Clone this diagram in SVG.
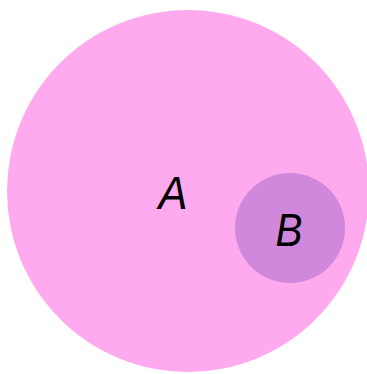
<svg xmlns="http://www.w3.org/2000/svg" width="367" height="374" viewBox="0 0 367 374">
<style>
.lbl{font-family:"Liberation Sans",Arial,sans-serif;font-style:italic;font-size:46px;fill:#000;text-anchor:middle}
</style>
<rect width="367" height="374" fill="#fff"/>
<g id="A">
<circle cx="188" cy="191" r="181" fill="#ffaaee"/>
<text class="lbl" x="173" y="209" textLength="29" lengthAdjust="spacingAndGlyphs">A</text>
</g>
<g id="B">
<circle cx="290" cy="228" r="55" fill="#d088dd"/>
<text class="lbl" x="289" y="246" textLength="27" lengthAdjust="spacingAndGlyphs">B</text>
</g>
<g id="connectors"/>
</svg>
